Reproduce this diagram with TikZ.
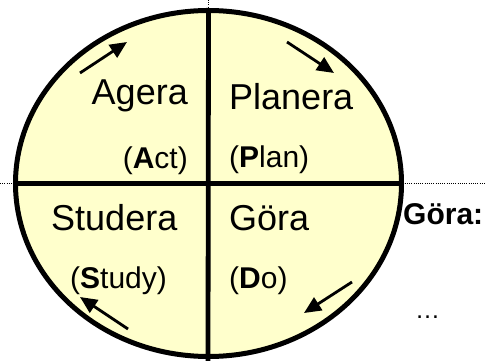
\documentclass[tikz,border=0pt]{standalone}
\usepackage{fontspec}
\setmainfont{Liberation Sans}
\usetikzlibrary{shapes.geometric,arrows.meta}
\definecolor{pdcafill}{HTML}{FFFFCC}
\tikzset{
  big/.style={inner sep=0pt,font=\fontsize{36}{42}\selectfont},
  small/.style={inner sep=0pt,font=\fontsize{30}{36}\selectfont},
  cyc/.style={line width=2.8pt,-{Triangle[length=17pt,width=15pt]}},
  guide/.style={dash pattern=on 1pt off 1.2pt,line width=0.8pt},
  divider/.style={line width=4.8pt}
}
\begin{document}
\begin{tikzpicture}[x=1pt,y=-1pt]
\useasboundingbox (0,0) rectangle (485,361);
% guides
\coordinate (gl) at (0,183);
\coordinate (gr) at (485,183);
\coordinate (gt) at (208,0);
\coordinate (gtb) at (208,12);
\draw[guide] (gl) -- (gr);
\draw[guide] (gt) -- (gtb);
% ellipse
\node[ellipse,draw,line width=5pt,fill=pdcafill,minimum width=386pt,minimum height=346pt,inner sep=0pt] (e) at (208.5,183.5) {};
\coordinate (bot) at (208,361);
\draw[divider] (e.north) -- (bot);
\draw[divider] (e.west) -- (e.east);
% texts
\node[big,anchor=base east] (agera) at (188,105) {Agera};
\node[small,anchor=base east] (act) at (188,168) {(\textbf{A}ct)};
\node[big,anchor=base west] (planera) at (229,110) {Planera};
\node[small,anchor=base west] (plan) at (229,167) {(\textbf{P}lan)};
\node[big,anchor=base west] (studera) at (51,230) {Studera};
\node[small,anchor=base west] (study) at (70,288) {(\textbf{S}tudy)};
\node[big,anchor=base west] (gora) at (229,230) {Göra};
\node[small,anchor=base west] (do) at (229,288) {(\textbf{D}o)};
\node[inner sep=0pt,anchor=base west,font=\fontsize{30}{34}\selectfont\bfseries] (gorah) at (403,224) {Göra:};
\node[inner sep=0pt,anchor=base west,font=\fontsize{25}{30}\selectfont] (dots) at (415,318) {…};
% cycle arrows
\coordinate (a1s) at (80,73);   \coordinate (a1e) at (127,42);
\coordinate (a2s) at (287,42);  \coordinate (a2e) at (334,73);
\coordinate (a3s) at (352,282); \coordinate (a3e) at (304,313);
\coordinate (a4s) at (128,329); \coordinate (a4e) at (80,297);
\draw[cyc] (a1s) -- (a1e);
\draw[cyc] (a2s) -- (a2e);
\draw[cyc] (a3s) -- (a3e);
\draw[cyc] (a4s) -- (a4e);
\end{tikzpicture}
\end{document}
